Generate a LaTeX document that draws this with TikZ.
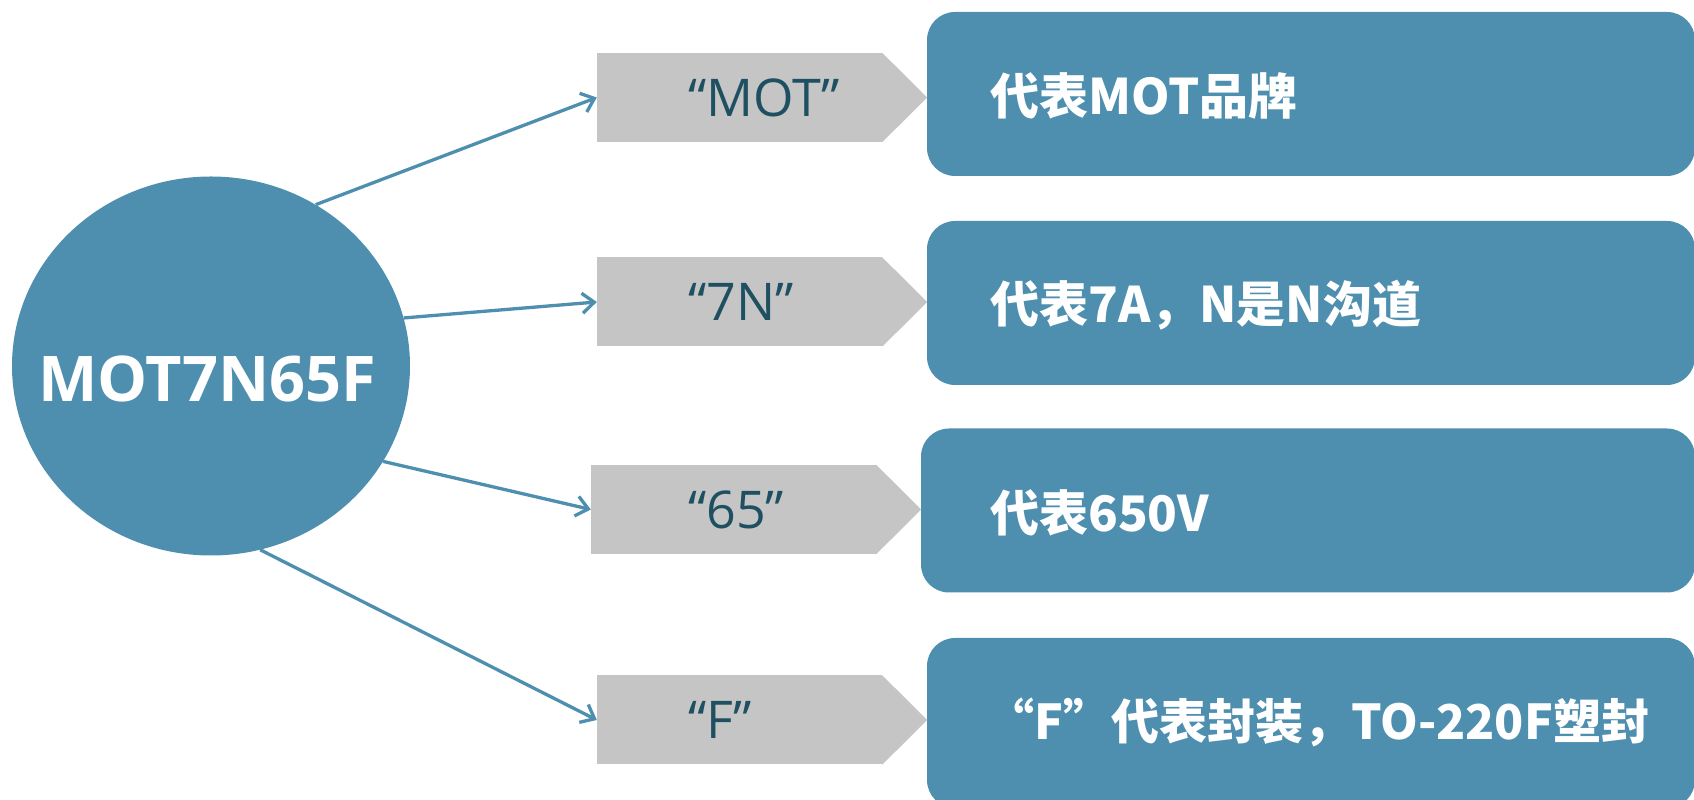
\documentclass[tikz,border=0pt]{standalone}
\usepackage{fontspec}
\setmainfont{Open Sans}
\newfontfamily\cjk{Noto Sans CJK SC}
\usetikzlibrary{shapes.geometric,arrows.meta,calc}
\definecolor{mblue}{RGB}{78,143,175}
\definecolor{mgray}{RGB}{196,197,196}
\definecolor{mteal}{RGB}{31,80,97}
\begin{document}
\begin{tikzpicture}[x=1pt,y=1pt,
  hub/.style={ellipse, fill=mblue, minimum width=398pt, minimum height=379pt, inner sep=0pt},
  hubtxt/.style={text=white, inner sep=0pt, font=\fontsize{63}{72}\selectfont\bfseries},
  graybox/.style={rectangle, fill=mgray, minimum width=285pt, minimum height=89pt, inner sep=0pt},
  graytip/.style={fill=mgray},
  graytxt/.style={anchor=west, text=mteal, inner sep=0pt, font=\fontsize{52}{60}\selectfont},
  bluebox/.style={rectangle, rounded corners=28pt, fill=mblue, minimum height=164pt, inner sep=0pt},
  bluetxt/.style={anchor=west, text=white, inner sep=0pt, font=\fontsize{49}{58}\selectfont\cjk\bfseries},
  link/.style={draw=mblue, line width=3.3pt, -{Straight Barb[length=12pt,width=20pt]}},
]
\useasboundingbox (0,0) rectangle (1694,800);

% blue description boxes
\node[bluebox, minimum width=768pt] (b1) at (1311,706) {};
\node[bluebox, minimum width=768pt] (b2) at (1311,497) {};
\node[bluebox, minimum width=774pt] (b3) at (1308,289.5) {};
\node[bluebox, minimum width=768pt, minimum height=170pt] (b4) at (1311,77) {};

% gray pointer boxes
\node[graybox] (g1) at (739.5,702.5) {};
\node[graybox] (g2) at (739.5,498) {};
\node[graybox] (g3) at (733.5,290.5) {};
\node[graybox] (g4) at (739.5,80) {};
\foreach \g in {g1,g2,g3,g4}{
  \fill[graytip] (\g.north east) -- ($(\g.east)+(45,0)$) -- (\g.south east) -- cycle;
}

% texts in gray boxes
\node[graytxt] (t1) at (688,702.5) {“MOT”};
\node[graytxt] (t2) at (688,498) {“7N”};
\node[graytxt] (t3) at (688,290.5) {“65”};
\node[graytxt] (t4) at (688,80) {“F”};

% texts in blue boxes
\node[bluetxt] (d1) at (990,704) {代表MOT品牌};
\node[bluetxt] (d2) at (990,495) {代表7A，N是N沟道};
\node[bluetxt] (d3) at (990,287) {代表650V};
\node[bluetxt, font=\fontsize{48}{56}\selectfont\cjk\bfseries] (d4) at (986,78) {“F”代表封装，TO-220F塑封};

% hub
\node[hub] (hub) at (211,434) {};
\node[hubtxt] (ht) at (207,421.5) {MOT7N65F};

% connectors
\draw[link] (hub.57.8) -- (g1.west);
\draw[link] (hub.14.2) -- (g2.west);
\draw[link] (hub.-29.1) -- (g3.west);
\draw[link] (hub.-75.9) -- (g4.west);
\end{tikzpicture}
\end{document}
